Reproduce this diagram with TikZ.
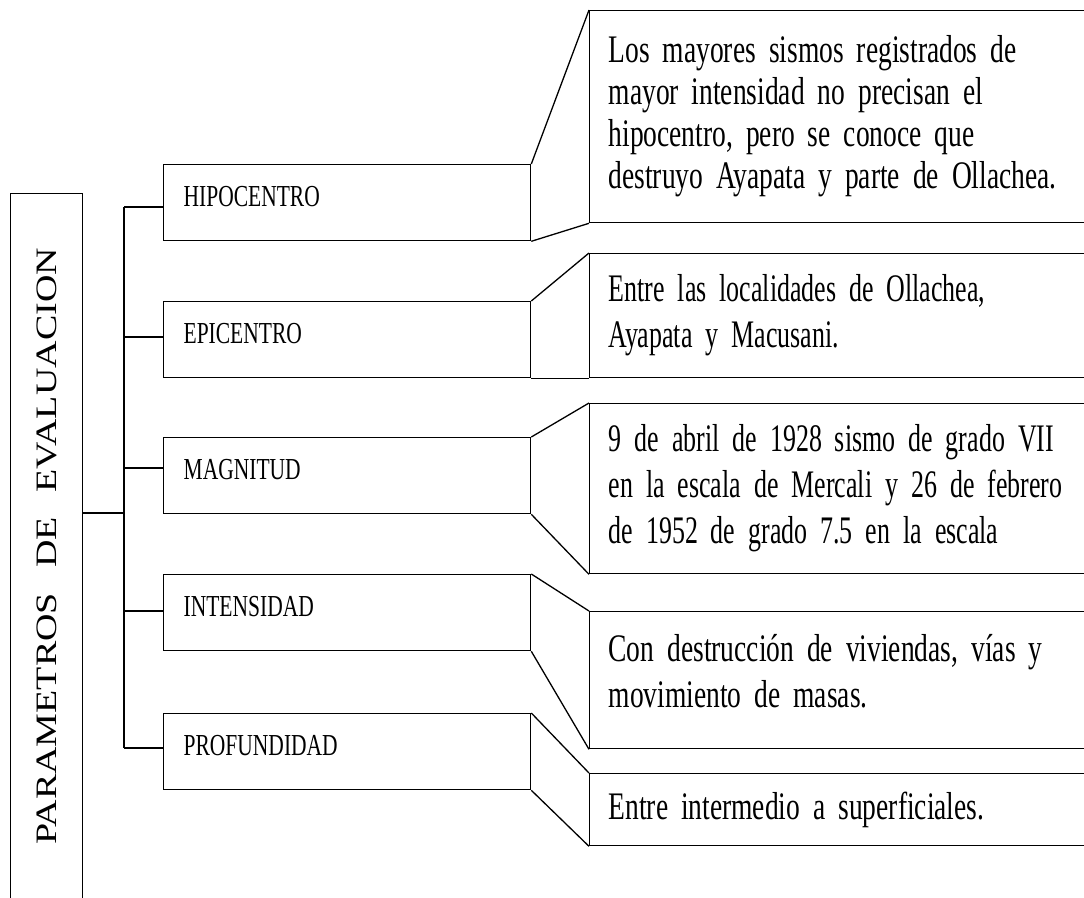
\documentclass[tikz,border=0pt]{standalone}
\usepackage{fontspec}
\usepackage{graphicx}
\setmainfont{Liberation Serif}[FakeStretch=0.705]
\newfontfamily\upserif{Liberation Serif}
\newfontfamily\narrowserif{Liberation Serif}[FakeStretch=0.665]
\newcommand\notefont[1]{\fontsize{39}{#1}\selectfont}

\begin{document}
\begin{tikzpicture}[x=1pt,y=-1pt,
    band/.style={draw,line width=1pt,anchor=north west,minimum width=72pt,
      minimum height=706pt,inner sep=0pt},
    item/.style={draw,line width=1.3pt,anchor=north west,minimum width=367pt,
      minimum height=76pt,inner xsep=20pt,inner ysep=0pt,text width=327pt,
      align=left,font=\fontsize{30.5}{30.5}\selectfont,text height=20pt,text depth=13pt},
    note/.style={draw,line width=1.3pt,anchor=north west,minimum width=533pt,
      inner xsep=19pt,inner ysep=0pt,text width=495pt,align=left,
      font=\notefont{46}},
    narrow/.style={font=\narrowserif\notefont{46}},
    link/.style={line width=1.3pt}]
      \useasboundingbox (0,0) rectangle (1084,897);
      \clip (0,0) rectangle (1084,897);
      \draw
        (10,193) node[band] (par){\rotatebox{90}{\scalebox{1}[0.78]{\upserif\fontsize{38}{38}\selectfont
          PARAMETROS\hspace{25pt}DE\hspace{25pt}EVALUACION}}}
        (163,164) node[item] (hipo){HIPOCENTRO}
        (163,301) node[item] (epi){EPICENTRO}
        (163,437) node[item] (mag){MAGNITUD}
        (163,574) node[item] (inten){INTENSIDAD}
        (163,713) node[item] (prof){PROFUNDIDAD}
        (589,10) node[note,minimum height=212pt,font=\notefont{42}] (hipon){Los mayores sismos registrados de\\
          mayor intensidad no precisan el\\ hipocentro, pero se conoce que\\ destruyo Ayapata y parte de Ollachea.}
        (589,253) node[note,narrow,minimum height=124pt] (epin){Entre las localidades de Ollachea,\\ Ayapata y Macusani.}
        (589,403) node[note,narrow,minimum height=170pt] (magn){9 de abril de 1928 sismo de grado VII\\
          en la escala de Mercali y 26 de febrero\\ de 1952 de grado 7.5 en la escala}
        (589,611) node[note,minimum height=137pt] (intenn){Con destrucción de viviendas, vías y\\
          movimiento de masas.\rule[-18pt]{0pt}{18pt}}
        (589,773) node[note,minimum height=72pt] (profn){Entre intermedio a superficiales.};
      \coordinate (hub) at (124,513);
      \coordinate (bh) at (124,207);
      \coordinate (be) at (124,337);
      \coordinate (bm) at (124,468);
      \coordinate (bi) at (124,611);
      \coordinate (bp) at (124,748);
      \begin{scope}[link]
        \draw (par.east |- hub) to (hub);
        \draw (bh) to (bp);
        \draw (bh) to (bh -| hipo.west);
        \draw (be) to (be -| epi.west);
        \draw (bm) to (bm -| mag.west);
        \draw (bi) to (bi -| inten.west);
        \draw (bp) to (bp -| prof.west);
        \draw (hipo.north east) to (hipon.north west);
        \draw (hipo.south east) to (hipon.south west);
        \draw (epi.north east) to (epin.north west);
        \draw (epi.south east) to (epin.south west);
        \draw (mag.north east) to (magn.north west);
        \draw (mag.south east) to (magn.south west);
        \draw (inten.north east) to (intenn.north west);
        \draw (inten.south east) to (intenn.south west);
        \draw (prof.north east) to (profn.north west);
        \draw (prof.south east) to (profn.south west);
      \end{scope}
    \end{tikzpicture}
\end{document}
